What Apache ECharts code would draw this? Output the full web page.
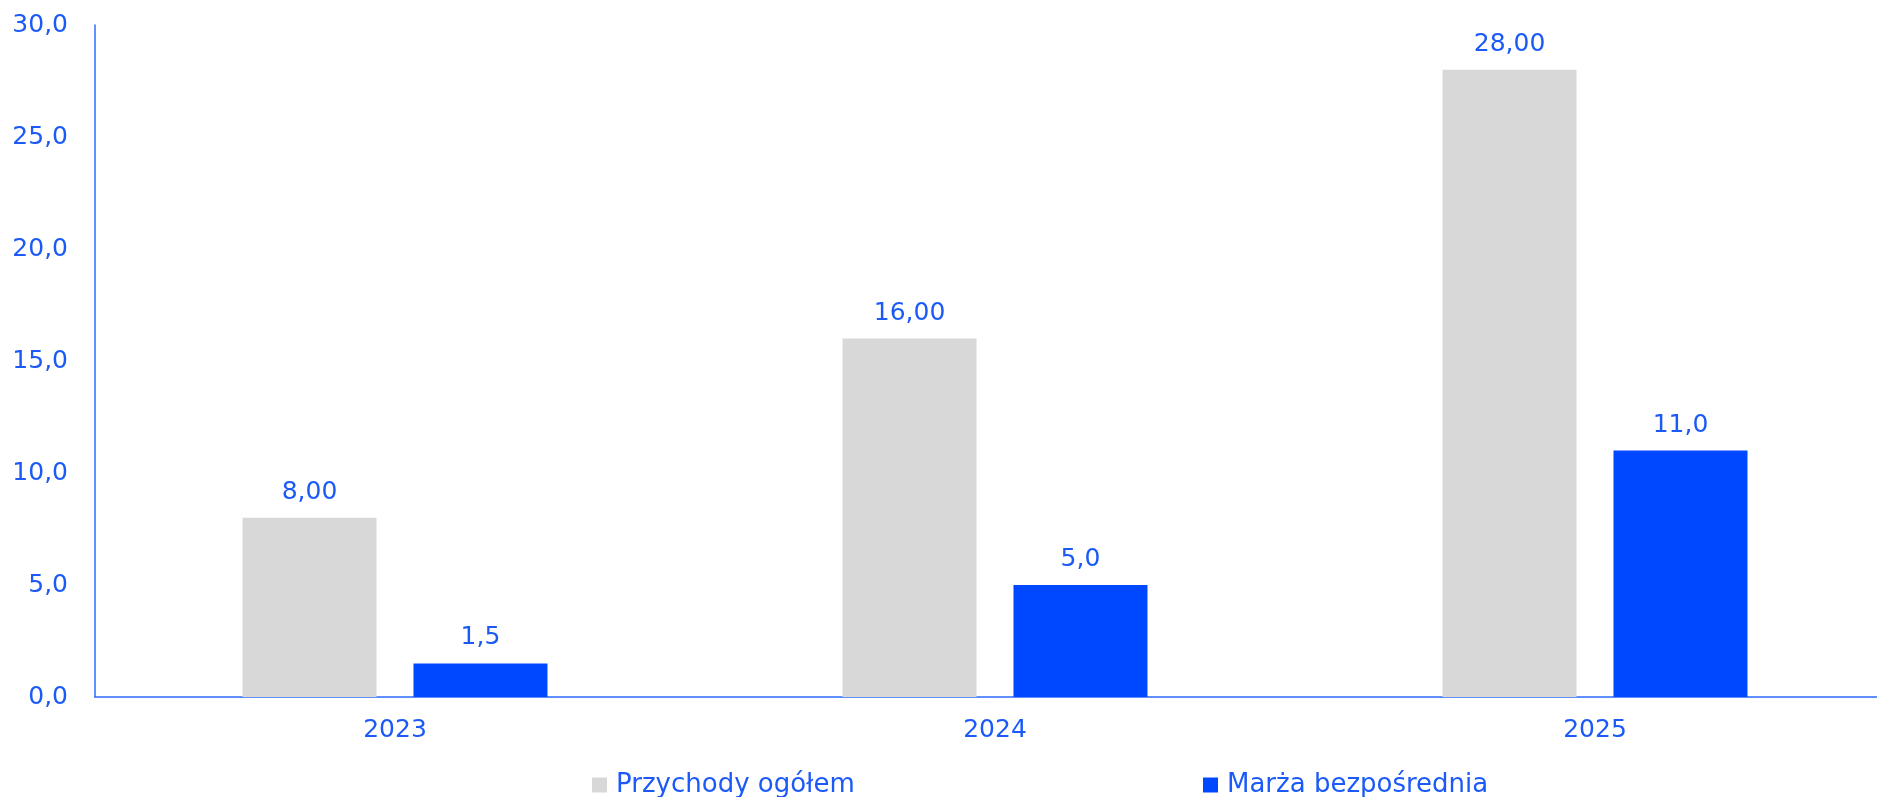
<!DOCTYPE html>
<html>
<head>
<meta charset="utf-8">
<script src="https://cdn.jsdelivr.net/npm/echarts@6/dist/echarts.min.js"></script>
<style>
html,body{margin:0;padding:0;background:#fff;}
#chart{width:1877px;height:797px;}
</style>
</head>
<body>
<div id="chart"></div>
<script>
const categories = ['2023', '2024', '2025'];
const seriesNames = ['Przychody ogółem', 'Marża bezpośrednia'];
const revenue = [8.00, 16.00, 28.00];
const margin = [1.5, 5.0, 11.0];
const yTicks = [0, 5, 10, 15, 20, 25, 30];

const TEXT = '#1C5AF8';
const FONT = 'DejaVu Sans';
const fmt = (v, d) => v.toFixed(d).replace('.', ',');

const chart = echarts.init(document.getElementById('chart'), null, {renderer: 'canvas'});
chart.setOption({
  animation: false,
  backgroundColor: '#ffffff',
  textStyle: {fontFamily: FONT},
  grid: {left: 95, top: 25, bottom: 100, right: -18, containLabel: false, outerBoundsMode: 'none'},
  legend: [
    {
      data: [seriesNames[0]], left: 592, top: 772, padding: 0,
      itemWidth: 15, itemHeight: 15, itemGap: 0,
      icon: 'rect',
      textStyle: {color: TEXT, fontSize: 26, fontFamily: FONT, padding: [0, 0, 0, 4]}
    },
    {
      data: [seriesNames[1]], left: 1203, top: 772, padding: 0,
      itemWidth: 15, itemHeight: 15, itemGap: 0,
      icon: 'rect',
      textStyle: {color: TEXT, fontSize: 26, fontFamily: FONT, padding: [0, 0, 0, 4]}
    }
  ],
  xAxis: {
    type: 'category',
    data: categories,
    axisLine: {show: true, lineStyle: {color: '#2D6BFF', width: 1.5}},
    axisTick: {show: false},
    axisLabel: {color: TEXT, fontSize: 25, fontFamily: FONT, margin: 21}
  },
  yAxis: {
    type: 'value',
    min: yTicks[0],
    max: yTicks[yTicks.length - 1],
    interval: yTicks[1] - yTicks[0],
    axisLine: {show: true, lineStyle: {color: '#2D6BFF', width: 1.5}},
    axisTick: {show: false},
    splitLine: {show: false},
    axisLabel: {color: TEXT, fontSize: 25, fontFamily: FONT, margin: 27,
      formatter: v => fmt(v, 1)}
  },
  series: [
    {
      name: seriesNames[0], type: 'bar', data: revenue,
      barWidth: 134, barGap: '27.6%',
      itemStyle: {color: '#D8D8D8'},
      label: {show: true, position: 'top', distance: 13, color: TEXT, fontSize: 25, fontFamily: FONT,
        formatter: p => fmt(p.value, 2)}
    },
    {
      name: seriesNames[1], type: 'bar', data: margin,
      barWidth: 134,
      itemStyle: {color: '#0048FF'},
      label: {show: true, position: 'top', distance: 13, color: TEXT, fontSize: 25, fontFamily: FONT,
        formatter: p => fmt(p.value, 1)}
    }
  ]
});
</script>
</body>
</html>
